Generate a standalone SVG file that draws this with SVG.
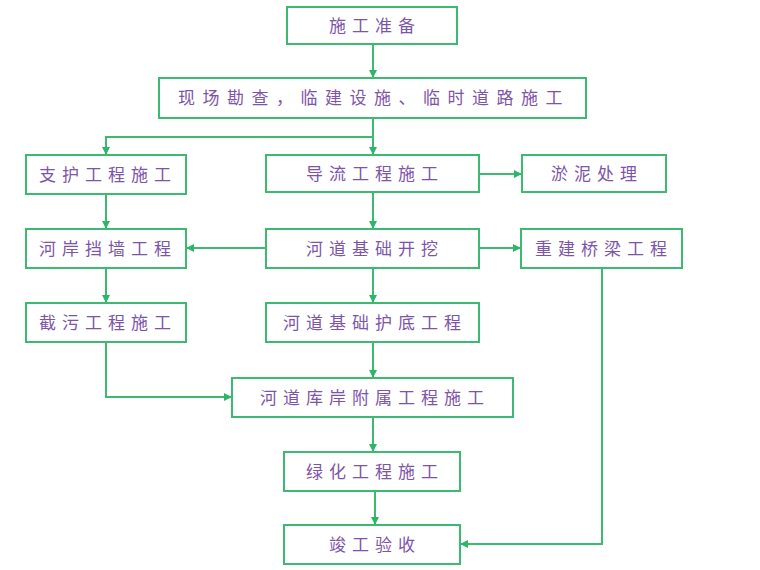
<svg xmlns="http://www.w3.org/2000/svg" width="760" height="570" viewBox="0 0 760 570">
<defs>
<marker id="ah" viewBox="0 0 10 10" refX="10" refY="5" markerWidth="8" markerHeight="8" markerUnits="userSpaceOnUse" orient="auto">
<path d="M0,0 L10,5 L0,10 Z" fill="#2fb56a"/>
</marker>
<style>
.box{fill:#ffffff;stroke:#3cba72;stroke-width:2}
.t{font-family:"Noto Sans CJK SC","Noto Sans",sans-serif;font-size:17px;fill:#7d55a8;text-anchor:middle;dominant-baseline:central;letter-spacing:6px}
.c{fill:none;stroke:#3cba72;stroke-width:2}
.a{marker-end:url(#ah)}
</style>
</defs>
<rect width="760" height="570" fill="#ffffff"/>
<g id="connectors">
<path class="c a" d="M373,44 V78"/>
<path class="c a" d="M373,118 V155"/>
<path class="c a" d="M373,137 H106 V155"/>
<path class="c a" d="M479,174 H522"/>
<path class="c a" d="M373,192 V229"/>
<path class="c a" d="M106,194 V229"/>
<path class="c a" d="M266,248 H186"/>
<path class="c a" d="M479,248 H521"/>
<path class="c a" d="M106,268 V303"/>
<path class="c a" d="M373,268 V303"/>
<path class="c a" d="M373,342 V378"/>
<path class="c a" d="M106,342 V397 H232"/>
<path class="c a" d="M373,417 V452"/>
<path class="c a" d="M375,491 V525"/>
<path class="c a" d="M602,268 V544 H460"/>
</g>
<g id="n1"><rect class="box" x="287" y="7" width="170" height="37"/><text class="t" x="375" y="24">施工准备</text></g>
<g id="n2"><rect class="box" x="159" y="78" width="427" height="40"/><text class="t" x="374" y="96.5" style="letter-spacing:7.5px">现场勘查，临建设施、临时道路施工</text></g>
<g id="n3"><rect class="box" x="26" y="155" width="160" height="39"/><text class="t" x="108" y="173">支护工程施工</text></g>
<g id="n4"><rect class="box" x="266" y="155" width="213" height="37"/><text class="t" x="375" y="172">导流工程施工</text></g>
<g id="n5"><rect class="box" x="522" y="155" width="144" height="37"/><text class="t" x="597" y="172">淤泥处理</text></g>
<g id="n6"><rect class="box" x="26" y="229" width="160" height="39"/><text class="t" x="108" y="247">河岸挡墙工程</text></g>
<g id="n7"><rect class="box" x="266" y="229" width="213" height="39"/><text class="t" x="375" y="247">河道基础开挖</text></g>
<g id="n8"><rect class="box" x="521" y="229" width="161" height="39"/><text class="t" x="604" y="247">重建桥梁工程</text></g>
<g id="n9"><rect class="box" x="26" y="303" width="160" height="39"/><text class="t" x="108" y="321">截污工程施工</text></g>
<g id="n10"><rect class="box" x="266" y="303" width="213" height="39"/><text class="t" x="375" y="321">河道基础护底工程</text></g>
<g id="n11"><rect class="box" x="232" y="378" width="281" height="39"/><text class="t" x="375" y="396">河道库岸附属工程施工</text></g>
<g id="n12"><rect class="box" x="284" y="452" width="176" height="39"/><text class="t" x="375" y="470">绿化工程施工</text></g>
<g id="n13"><rect class="box" x="284" y="525" width="176" height="39"/><text class="t" x="375" y="543">竣工验收</text></g>
</svg>
